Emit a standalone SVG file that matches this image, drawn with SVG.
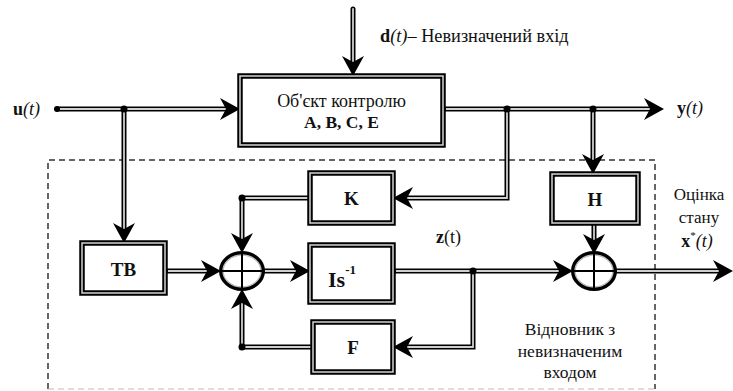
<svg xmlns="http://www.w3.org/2000/svg" width="733" height="391" viewBox="0 0 733 391">
<style>
.w{fill:none;stroke:#000;stroke-width:5;stroke-linecap:round;stroke-linejoin:miter}
.c{fill:none;stroke:#cfcfcf;stroke-width:1.8;stroke-linecap:round;stroke-linejoin:miter}
.bo{fill:#fff;stroke:#000;stroke-width:5.5}
.bi{fill:none;stroke:#d4d4d4;stroke-width:1.5}
.t{font-family:'Liberation Serif','Tinos','DejaVu Serif',serif;fill:#111}
.b{font-weight:bold}
.i{font-style:italic}
.dot{fill:#000}
.se{fill:#fff;stroke:#000;stroke-width:4}
.si{fill:none;stroke:#bdbdbd;stroke-width:1.4}
.x{stroke:#000;stroke-width:2}
</style>
<defs>
<marker id="ar" markerUnits="userSpaceOnUse" viewBox="-22 -12 24 24" markerWidth="24" markerHeight="24" refX="-14" refY="0" orient="auto">
<path d="M0,0 L-20,-11 L-14,0 L-20,11 Z" fill="#000"/>
</marker>
</defs>
<rect width="733" height="391" fill="#fff"/>
<g id="frame">
<path d="M48,389 V160 H655 V389" fill="none" stroke="#333" stroke-width="1.5" stroke-dasharray="6,4"/>
<path d="M48,389 H655" fill="none" stroke="#bbb" stroke-width="1.2" stroke-dasharray="6,4"/>
</g>
<g id="connectors">
<path class="w" d="M353,9 V62"/><path class="c" d="M353,9 V62" marker-end="url(#ar)"/>
<path class="w" d="M57,109 H226"/><path class="c" d="M57,109 H226" marker-end="url(#ar)"/>
<path class="w" d="M124,109 V229"/><path class="c" d="M124,111 V229" marker-end="url(#ar)"/>
<path class="w" d="M443,109 H650"/><path class="c" d="M443,109 H650" marker-end="url(#ar)"/>
<path class="w" d="M507,109 V198 H407"/><path class="c" d="M507,111 V198 H407" marker-end="url(#ar)"/>
<path class="w" d="M593,109 V160"/><path class="c" d="M593,111 V160" marker-end="url(#ar)"/>
<path class="w" d="M594,223 V240"/><path class="c" d="M594,225 V240" marker-end="url(#ar)"/>
<path class="w" d="M165,271 H207"/><path class="c" d="M167,271 H207" marker-end="url(#ar)"/>
<path class="w" d="M263,271 H296"/><path class="c" d="M264,271 H296" marker-end="url(#ar)"/>
<path class="w" d="M393,271 H559"/><path class="c" d="M395,271 H559" marker-end="url(#ar)"/>
<path class="w" d="M473,271 V347 H407"/><path class="c" d="M473,273 V347 H407" marker-end="url(#ar)"/>
<path class="w" d="M310,198 H242 V239"/><path class="c" d="M308,198 H242 V239" marker-end="url(#ar)"/>
<path class="w" d="M313,347 H242 V303"/><path class="c" d="M311,347 H242 V303" marker-end="url(#ar)"/>
<path class="w" d="M615,271 H719"/><path class="c" d="M616,271 H719" marker-end="url(#ar)"/>
<circle class="dot" cx="57" cy="109" r="3"/>
<circle class="dot" cx="124" cy="109" r="3.5"/>
<circle class="dot" cx="443" cy="109" r="3"/>
<circle class="dot" cx="507" cy="109" r="3.5"/>
<circle class="dot" cx="593" cy="109" r="3.5"/>
<circle class="dot" cx="242" cy="198" r="3.5"/>
<circle class="dot" cx="242" cy="347" r="3.5"/>
<circle class="dot" cx="473" cy="271" r="3.5"/>
<circle class="dot" cx="165" cy="271" r="3"/>
<circle class="dot" cx="393" cy="271" r="3"/>
</g>
<g id="object">
<rect class="bo" x="240" y="76" width="203" height="69"/>
<rect class="bi" x="240" y="76" width="203" height="69"/>
<text class="t" x="341.5" y="107" font-size="18" text-anchor="middle">Об'єкт контролю</text>
<text class="t b" x="341.5" y="128" font-size="17.5" text-anchor="middle">A, B, C, E</text>
</g>
<g id="TB">
<rect class="bo" x="82" y="243" width="83" height="50"/>
<rect class="bi" x="82" y="243" width="83" height="50"/>
<text class="t b" x="123.5" y="276" font-size="19" text-anchor="middle">TB</text>
</g>
<g id="K">
<rect class="bo" x="310" y="173" width="83" height="50"/>
<rect class="bi" x="310" y="173" width="83" height="50"/>
<text class="t b" x="351.5" y="205" font-size="19" text-anchor="middle">K</text>
</g>
<g id="Is">
<rect class="bo" x="310" y="245" width="83" height="57"/>
<rect class="bi" x="310" y="245" width="83" height="57"/>
<text class="t b" x="328" y="287" font-size="22">Is<tspan font-size="13" dy="-13">-1</tspan></text>
</g>
<g id="F">
<rect class="bo" x="313" y="322" width="80" height="50"/>
<rect class="bi" x="313" y="322" width="80" height="50"/>
<text class="t b" x="353" y="354" font-size="19" text-anchor="middle">F</text>
</g>
<g id="H">
<rect class="bo" x="552" y="174" width="86" height="49"/>
<rect class="bi" x="552" y="174" width="86" height="49"/>
<text class="t b" x="595" y="206" font-size="19" text-anchor="middle">H</text>
</g>
<g id="sum1">
<ellipse class="se" cx="242" cy="271" rx="21" ry="18"/>
<ellipse class="si" cx="242" cy="271" rx="19" ry="16"/>
<path class="x" d="M221,271 H263 M242,253 V289"/>
</g>
<g id="sum2">
<ellipse class="se" cx="594" cy="271" rx="21" ry="18"/>
<ellipse class="si" cx="594" cy="271" rx="19" ry="16"/>
<path class="x" d="M573,271 H615 M594,253 V289"/>
</g>
<g id="labels">
<text class="t" x="380" y="42" font-size="18.3"><tspan class="b">d</tspan><tspan class="i">(t)</tspan>– Невизначений  вхід</text>
<text class="t" x="13" y="115" font-size="18"><tspan class="b">u</tspan><tspan class="i">(t)</tspan></text>
<text class="t" x="677" y="114" font-size="18"><tspan class="b">y</tspan><tspan class="i">(t)</tspan></text>
<text class="t" x="436" y="243" font-size="18"><tspan class="b">z</tspan>(t)</text>
<text class="t" x="699" y="200" font-size="17" text-anchor="middle">Оцінка</text>
<text class="t" x="699" y="223" font-size="17" text-anchor="middle">стану</text>
<text class="t" x="697" y="247" font-size="18" text-anchor="middle"><tspan class="b">x</tspan><tspan font-size="11" dy="-8">*</tspan><tspan class="i" dy="8">(t)</tspan></text>
<text class="t" x="570" y="335" font-size="17.5" text-anchor="middle">Відновник з</text>
<text class="t" x="570" y="357" font-size="17.5" text-anchor="middle">невизначеним</text>
<text class="t" x="570" y="378" font-size="17.5" text-anchor="middle">входом</text>
</g>
</svg>
